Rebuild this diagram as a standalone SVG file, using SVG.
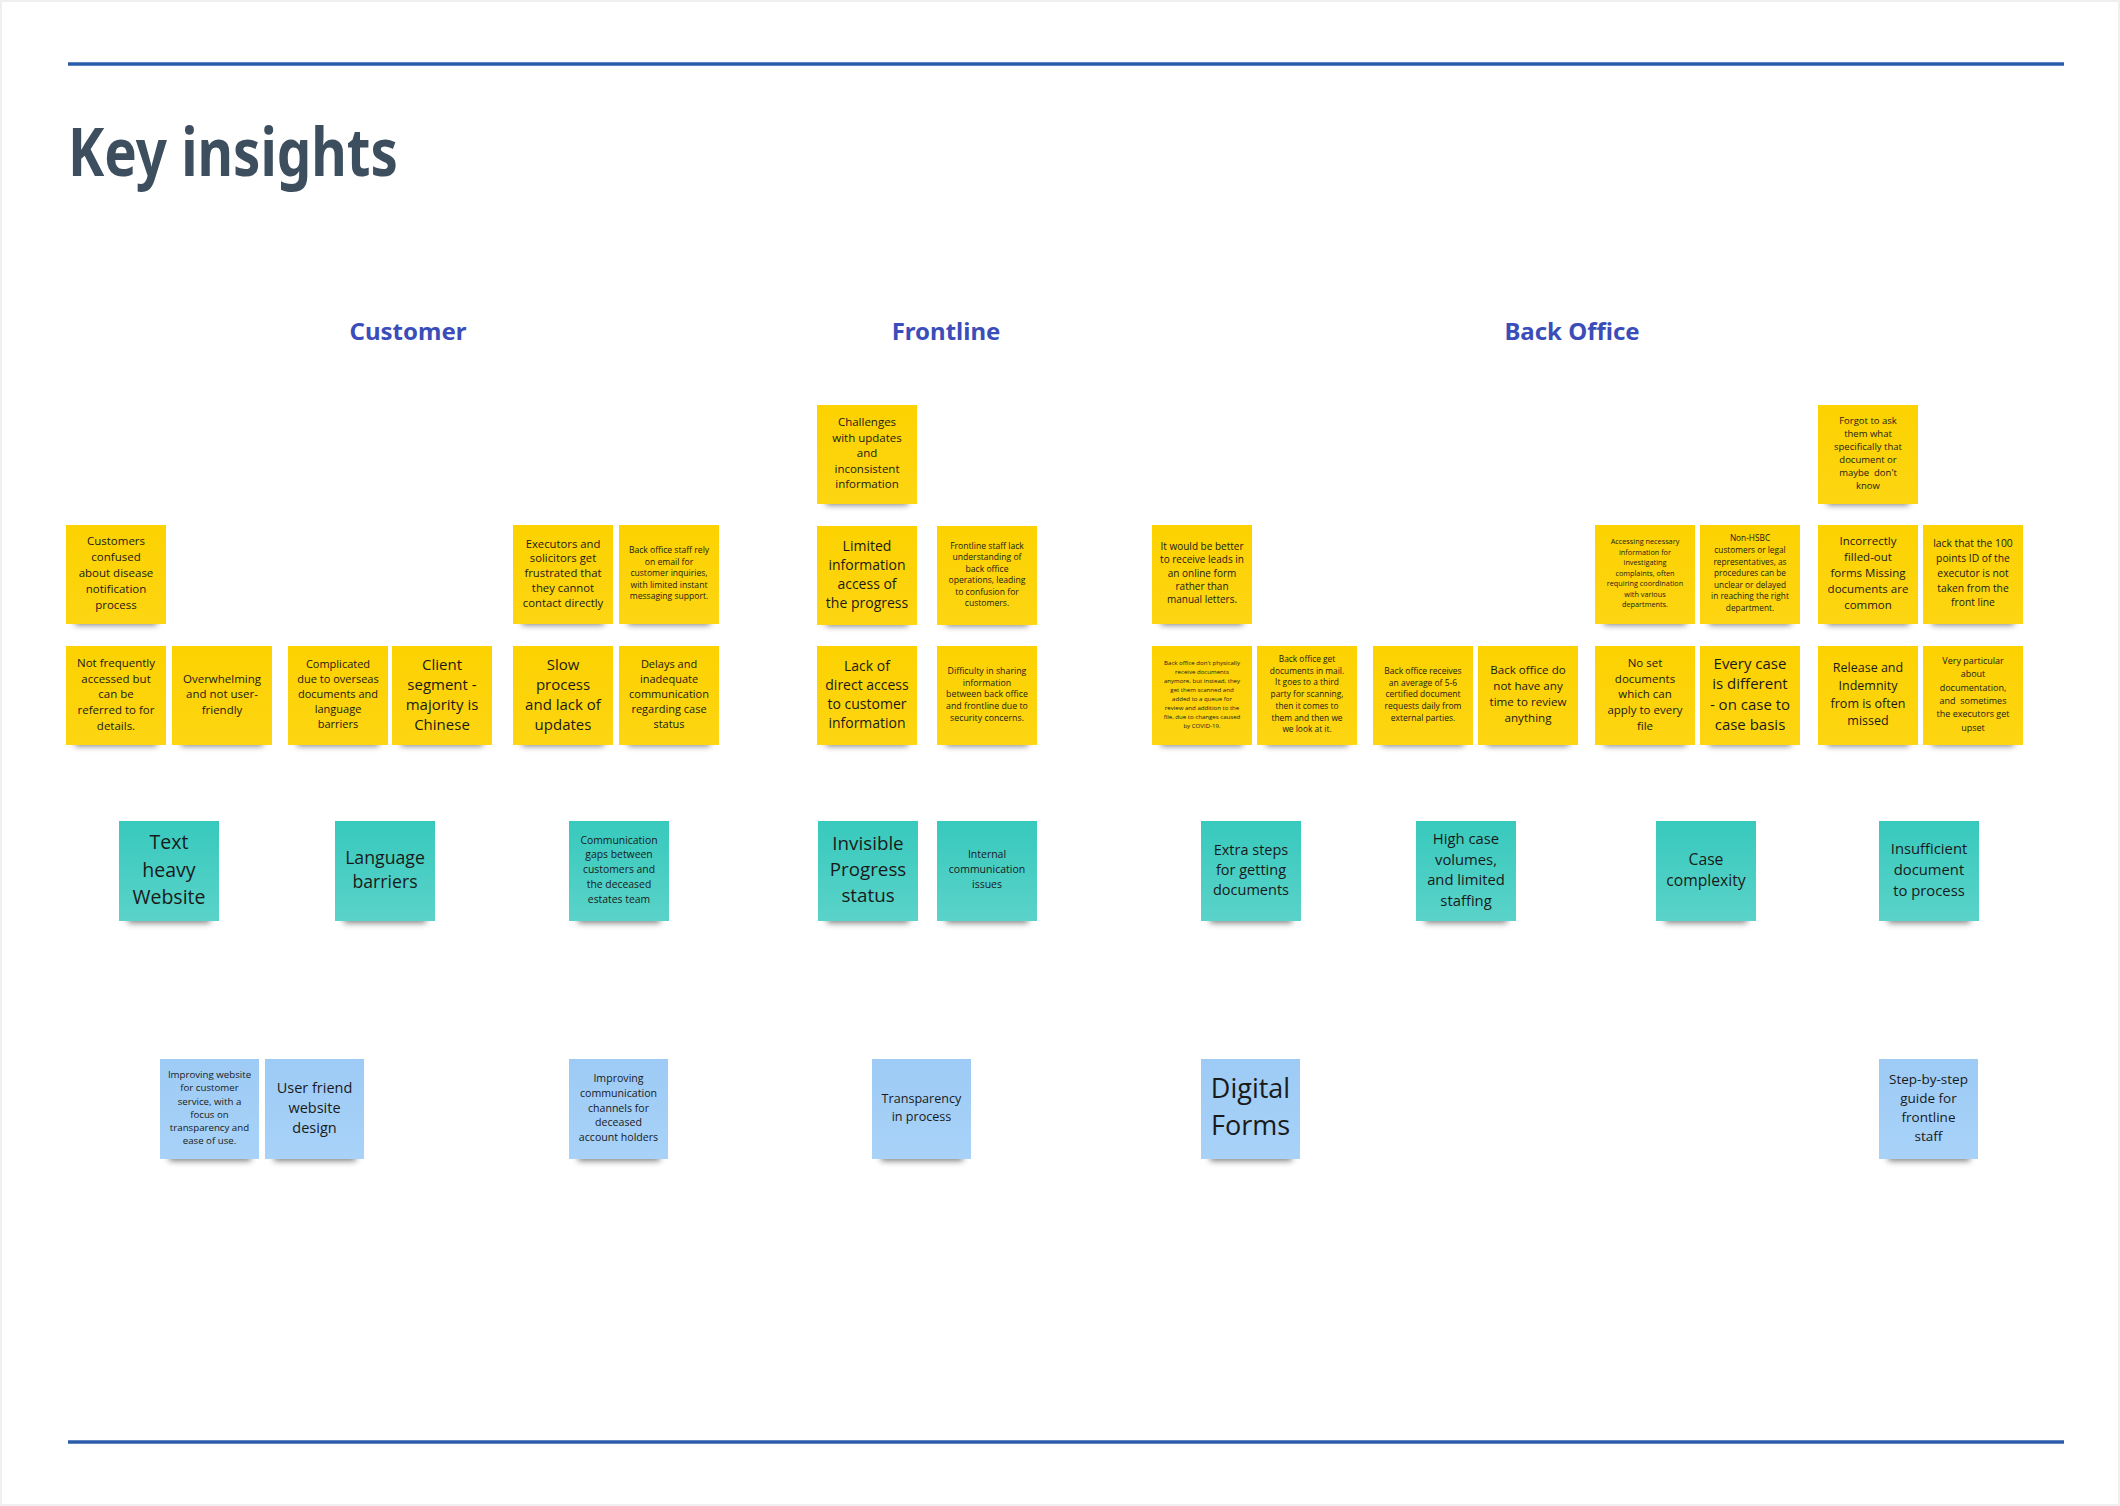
<svg xmlns="http://www.w3.org/2000/svg" xmlns:xlink="http://www.w3.org/1999/xlink" width="2120" height="1506" viewBox="0 0 2120 1506">
<style>
.rule{stroke:#2b5cab;stroke-width:3.5}
.title{font-family:"Noto Sans","Open Sans","Liberation Sans",sans-serif;font-weight:700;fill:#3d4f5f;font-size:66px}
.hdr{font-family:"Noto Sans","Open Sans","Liberation Sans",sans-serif;font-weight:700;fill:#3b4db8;font-size:24px;text-anchor:middle}
.sh{fill:#000;opacity:.5;filter:url(#blur)}
.y{fill:url(#gy)}
.g{fill:url(#gt)}
.b{fill:url(#gb)}
.t{font-family:"Open Sans","Liberation Sans",sans-serif;fill:#1a1a1a;text-anchor:middle;transform:translateY(-1.3px)}
</style>
<defs>
<filter id="blur" x="-20%" y="-100%" width="140%" height="300%"><feGaussianBlur stdDeviation="3"/></filter>
<linearGradient id="gy" x1="0" y1="0" x2="0" y2="1"><stop offset="0" stop-color="#fcd200"/><stop offset="1" stop-color="#fdd512"/></linearGradient>
<linearGradient id="gt" x1="0" y1="0" x2="0" y2="1"><stop offset="0" stop-color="#38c9bd"/><stop offset="1" stop-color="#5ad3c9"/></linearGradient>
<linearGradient id="gb" x1="0" y1="0" x2="0" y2="1"><stop offset="0" stop-color="#9dcbf5"/><stop offset="1" stop-color="#a8d2f8"/></linearGradient>
<g id="ny"><rect class="sh" x="9" y="90" width="82" height="10"/><rect class="y" width="100" height="99"/></g>
<g id="ng"><rect class="sh" x="9" y="91" width="82" height="11"/><rect class="g" width="100" height="100"/></g>
<g id="nb"><rect class="sh" x="9" y="91" width="82" height="11"/><rect class="b" width="99" height="100"/></g>
</defs>
<rect width="2120" height="1506" fill="#efefef"/>
<rect x="2" y="2" width="2116" height="1502" fill="#ffffff"/>
<line class="rule" x1="68" y1="64" x2="2064" y2="64"/>
<line class="rule" x1="68" y1="1442" x2="2064" y2="1442"/>
<text class="title" x="68" y="176" textLength="330" lengthAdjust="spacingAndGlyphs">Key insights</text>
<text class="hdr" x="408" y="340">Customer</text>
<text class="hdr" x="946" y="340">Frontline</text>
<text class="hdr" x="1572" y="340">Back Office</text>
<g id="connectors"></g>

<g id="customer">
<g id="c1" transform="translate(66,525)"><use href="#ny"/><text class="t" font-size="11.5"><tspan x="50" y="21.6">Customers</tspan><tspan x="50" y="37.6">confused</tspan><tspan x="50" y="53.6">about disease</tspan><tspan x="50" y="69.6">notification</tspan><tspan x="50" y="85.6">process</tspan></text></g>
<g id="c2" transform="translate(66,646)"><use href="#ny"/><text class="t" font-size="11.5"><tspan x="50" y="22.2">Not frequently</tspan><tspan x="50" y="37.9">accessed but</tspan><tspan x="50" y="53.6">can be</tspan><tspan x="50" y="69.3">referred to for</tspan><tspan x="50" y="85">details.</tspan></text></g>
<g id="c3" transform="translate(172,646)"><use href="#ny"/><text class="t" font-size="11.5"><tspan x="50" y="38.1">Overwhelming</tspan><tspan x="50" y="53.6">and not user-</tspan><tspan x="50" y="69.1">friendly</tspan></text></g>
<g id="c4" transform="translate(288,646)"><use href="#ny"/><text class="t" font-size="11"><tspan x="50" y="23.5">Complicated</tspan><tspan x="50" y="38.5">due to overseas</tspan><tspan x="50" y="53.5">documents and</tspan><tspan x="50" y="68.5">language</tspan><tspan x="50" y="83.5">barriers</tspan></text></g>
<g id="c5" transform="translate(392,646)"><use href="#ny"/><text class="t" font-size="15"><tspan x="50" y="24.9">Client</tspan><tspan x="50" y="44.9">segment -</tspan><tspan x="50" y="64.9">majority is</tspan><tspan x="50" y="84.9">Chinese</tspan></text></g>
<g id="c6" transform="translate(513,525)"><use href="#ny"/><text class="t" font-size="11.3"><tspan x="50" y="24">Executors and</tspan><tspan x="50" y="38.8">solicitors get</tspan><tspan x="50" y="53.6">frustrated that</tspan><tspan x="50" y="68.4">they cannot</tspan><tspan x="50" y="83.2">contact directly</tspan></text></g>
<g id="c7" transform="translate(619,525)"><use href="#ny"/><text class="t" font-size="8.6"><tspan x="50" y="29.6">Back office staff rely</tspan><tspan x="50" y="41.1">on email for</tspan><tspan x="50" y="52.6">customer inquiries,</tspan><tspan x="50" y="64.1">with limited instant</tspan><tspan x="50" y="75.6">messaging support.</tspan></text></g>
<g id="c8" transform="translate(513,646)"><use href="#ny"/><text class="t" font-size="15"><tspan x="50" y="24.9">Slow</tspan><tspan x="50" y="44.9">process</tspan><tspan x="50" y="64.9">and lack of</tspan><tspan x="50" y="84.9">updates</tspan></text></g>
<g id="c9" transform="translate(619,646)"><use href="#ny"/><text class="t" font-size="11"><tspan x="50" y="23.5">Delays and</tspan><tspan x="50" y="38.5">inadequate</tspan><tspan x="50" y="53.5">communication</tspan><tspan x="50" y="68.5">regarding case</tspan><tspan x="50" y="83.5">status</tspan></text></g>
</g>

<g id="frontline">
<g id="f1" transform="translate(817,405)"><use href="#ny"/><text class="t" font-size="11.5"><tspan x="50" y="22.4">Challenges</tspan><tspan x="50" y="38">with updates</tspan><tspan x="50" y="53.6">and</tspan><tspan x="50" y="69.2">inconsistent</tspan><tspan x="50" y="84.8">information</tspan></text></g>
<g id="f2" transform="translate(817,526)"><use href="#ny"/><text class="t" font-size="14"><tspan x="50" y="26">Limited</tspan><tspan x="50" y="45">information</tspan><tspan x="50" y="64">access of</tspan><tspan x="50" y="83">the progress</tspan></text></g>
<g id="f3" transform="translate(937,526)"><use href="#ny"/><text class="t" font-size="8.6"><tspan x="50" y="23.9">Frontline staff lack</tspan><tspan x="50" y="35.4">understanding of</tspan><tspan x="50" y="46.9">back office</tspan><tspan x="50" y="58.4">operations, leading</tspan><tspan x="50" y="69.9">to confusion for</tspan><tspan x="50" y="81.4">customers.</tspan></text></g>
<g id="f4" transform="translate(817,646)"><use href="#ny"/><text class="t" font-size="14"><tspan x="50" y="26">Lack of</tspan><tspan x="50" y="45">direct access</tspan><tspan x="50" y="64">to customer</tspan><tspan x="50" y="83">information</tspan></text></g>
<g id="f5" transform="translate(937,646)"><use href="#ny"/><text class="t" font-size="8.8"><tspan x="50" y="29.3">Difficulty in sharing</tspan><tspan x="50" y="41">information</tspan><tspan x="50" y="52.7">between back office</tspan><tspan x="50" y="64.4">and frontline due to</tspan><tspan x="50" y="76.1">security concerns.</tspan></text></g>
</g>

<g id="backoffice">
<g id="b1" transform="translate(1152,525)"><use href="#ny"/><text class="t" font-size="10"><tspan x="50" y="26.5">It would be better</tspan><tspan x="50" y="39.8">to receive leads in</tspan><tspan x="50" y="53.1">an online form</tspan><tspan x="50" y="66.4">rather than</tspan><tspan x="50" y="79.7">manual letters.</tspan></text></g>
<g id="b2" transform="translate(1152,646)"><use href="#ny"/><text class="t" font-size="6.1"><tspan x="50" y="20.6">Back office don't physically</tspan><tspan x="50" y="29.5">receive documents</tspan><tspan x="50" y="38.4">anymore, but instead, they</tspan><tspan x="50" y="47.3">get them scanned and</tspan><tspan x="50" y="56.2">added to a queue for</tspan><tspan x="50" y="65.1">review and addition to the</tspan><tspan x="50" y="74">file, due to changes caused</tspan><tspan x="50" y="82.9">by COVID-19.</tspan></text></g>
<g id="b3" transform="translate(1257,646)"><use href="#ny"/><text class="t" font-size="8.4"><tspan x="50" y="17.4">Back office get</tspan><tspan x="50" y="29.1">documents in mail.</tspan><tspan x="50" y="40.8">It goes to a third</tspan><tspan x="50" y="52.5">party for scanning,</tspan><tspan x="50" y="64.2">then it comes to</tspan><tspan x="50" y="75.9">them and then we</tspan><tspan x="50" y="87.6">we look at it.</tspan></text></g>
<g id="b4" transform="translate(1373,646)"><use href="#ny"/><text class="t" font-size="8.5"><tspan x="50" y="29.2">Back office receives</tspan><tspan x="50" y="40.9">an average of 5-6</tspan><tspan x="50" y="52.6">certified document</tspan><tspan x="50" y="64.3">requests daily from</tspan><tspan x="50" y="76">external parties.</tspan></text></g>
<g id="b5" transform="translate(1478,646)"><use href="#ny"/><text class="t" font-size="11.6"><tspan x="50" y="29.7">Back office do</tspan><tspan x="50" y="45.7">not have any</tspan><tspan x="50" y="61.7">time to review</tspan><tspan x="50" y="77.7">anything</tspan></text></g>
<g id="b6" transform="translate(1595,525)"><use href="#ny"/><text class="t" font-size="7.3"><tspan x="50" y="20.6">Accessing necessary</tspan><tspan x="50" y="31.1">information for</tspan><tspan x="50" y="41.6">investigating</tspan><tspan x="50" y="52.1">complaints, often</tspan><tspan x="50" y="62.6">requiring coordination</tspan><tspan x="50" y="73.1">with various</tspan><tspan x="50" y="83.6">departments.</tspan></text></g>
<g id="b7" transform="translate(1700,525)"><use href="#ny"/><text class="t" font-size="8.3"><tspan x="50" y="17.7">Non-HSBC</tspan><tspan x="50" y="29.3">customers or legal</tspan><tspan x="50" y="40.9">representatives, as</tspan><tspan x="50" y="52.5">procedures can be</tspan><tspan x="50" y="64.1">unclear or delayed</tspan><tspan x="50" y="75.7">in reaching the right</tspan><tspan x="50" y="87.3">department.</tspan></text></g>
<g id="b8" transform="translate(1818,405)"><use href="#ny"/><text class="t" font-size="9.5"><tspan x="50" y="20">Forgot to ask</tspan><tspan x="50" y="33">them what</tspan><tspan x="50" y="46">specifically that</tspan><tspan x="50" y="59">document or</tspan><tspan x="50" y="72" xml:space="preserve">maybe  don't</tspan><tspan x="50" y="85">know</tspan></text></g>
<g id="b9" transform="translate(1818,525)"><use href="#ny"/><text class="t" font-size="11.5"><tspan x="50" y="21.6">Incorrectly</tspan><tspan x="50" y="37.6">filled-out</tspan><tspan x="50" y="53.6">forms Missing</tspan><tspan x="50" y="69.6">documents are</tspan><tspan x="50" y="85.6">common</tspan></text></g>
<g id="b10" transform="translate(1923,525)"><use href="#ny"/><text class="t" font-size="10.3"><tspan x="50" y="23.6">lack that the 100</tspan><tspan x="50" y="38.4">points ID of the</tspan><tspan x="50" y="53.2">executor is not</tspan><tspan x="50" y="68">taken from the</tspan><tspan x="50" y="82.8">front line</tspan></text></g>
<g id="b11" transform="translate(1595,646)"><use href="#ny"/><text class="t" font-size="11.5"><tspan x="50" y="22.2">No set</tspan><tspan x="50" y="37.9">documents</tspan><tspan x="50" y="53.6">which can</tspan><tspan x="50" y="69.3">apply to every</tspan><tspan x="50" y="85">file</tspan></text></g>
<g id="b12" transform="translate(1700,646)"><use href="#ny"/><text class="t" font-size="15"><tspan x="50" y="24.5">Every case</tspan><tspan x="50" y="44.8">is different</tspan><tspan x="50" y="65.1">- on case to</tspan><tspan x="50" y="85.4">case basis</tspan></text></g>
<g id="b13" transform="translate(1818,646)"><use href="#ny"/><text class="t" font-size="12.5"><tspan x="50" y="27.5">Release and</tspan><tspan x="50" y="45.2">Indemnity</tspan><tspan x="50" y="62.9">from is often</tspan><tspan x="50" y="80.6">missed</tspan></text></g>
<g id="b14" transform="translate(1923,646)"><use href="#ny"/><text class="t" font-size="9"><tspan x="50" y="19.5">Very particular</tspan><tspan x="50" y="32.8">about</tspan><tspan x="50" y="46.1">documentation,</tspan><tspan x="50" y="59.4" xml:space="preserve">and  sometimes</tspan><tspan x="50" y="72.7">the executors get</tspan><tspan x="50" y="86">upset</tspan></text></g>
</g>

<g id="themes">
<g id="t1" transform="translate(119,821)"><use href="#ng"/><text class="t" font-size="19.5"><tspan x="50" y="29.5">Text</tspan><tspan x="50" y="57">heavy</tspan><tspan x="50" y="84.5">Website</tspan></text></g>
<g id="t2" transform="translate(335,821)"><use href="#ng"/><text class="t" font-size="17.7"><tspan x="50" y="44.4">Language</tspan><tspan x="50" y="68.4">barriers</tspan></text></g>
<g id="t3" transform="translate(569,821)"><use href="#ng"/><text class="t" font-size="10.4"><tspan x="50" y="23.9">Communication</tspan><tspan x="50" y="38.8">gaps between</tspan><tspan x="50" y="53.7">customers and</tspan><tspan x="50" y="68.6">the deceased</tspan><tspan x="50" y="83.5">estates team</tspan></text></g>
<g id="t4" transform="translate(818,821)"><use href="#ng"/><text class="t" font-size="18.8"><tspan x="50" y="30.8">Invisible</tspan><tspan x="50" y="56.8">Progress</tspan><tspan x="50" y="82.8">status</tspan></text></g>
<g id="t5" transform="translate(937,821)"><use href="#ng"/><text class="t" font-size="10.5"><tspan x="50" y="38.8">Internal</tspan><tspan x="50" y="53.8">communication</tspan><tspan x="50" y="68.8">issues</tspan></text></g>
<g id="t6" transform="translate(1201,821)"><use href="#ng"/><text class="t" font-size="14.5"><tspan x="50" y="35.2">Extra steps</tspan><tspan x="50" y="55.2">for getting</tspan><tspan x="50" y="75.2">documents</tspan></text></g>
<g id="t7" transform="translate(1416,821)"><use href="#ng"/><text class="t" font-size="14.8"><tspan x="50" y="24.6">High case</tspan><tspan x="50" y="45.1">volumes,</tspan><tspan x="50" y="65.6">and limited</tspan><tspan x="50" y="86.1">staffing</tspan></text></g>
<g id="t8" transform="translate(1656,821)"><use href="#ng"/><text class="t" font-size="15.7"><tspan x="50" y="44.9">Case</tspan><tspan x="50" y="66.6">complexity</tspan></text></g>
<g id="t9" transform="translate(1879,821)"><use href="#ng"/><text class="t" font-size="14.8"><tspan x="50" y="34.5">Insufficient</tspan><tspan x="50" y="55.3">document</tspan><tspan x="50" y="76.1">to process</tspan></text></g>
</g>

<g id="ideas">
<g id="u1" transform="translate(160,1059)"><use href="#nb"/><text class="t" font-size="9.7"><tspan x="49.5" y="20.5">Improving website</tspan><tspan x="49.5" y="33.7">for customer</tspan><tspan x="49.5" y="46.9">service, with a</tspan><tspan x="49.5" y="60.1">focus on</tspan><tspan x="49.5" y="73.3">transparency and</tspan><tspan x="49.5" y="86.5">ease of use.</tspan></text></g>
<g id="u2" transform="translate(265,1059)"><use href="#nb"/><text class="t" font-size="14.5"><tspan x="49.5" y="35.2">User friend</tspan><tspan x="49.5" y="55.2">website</tspan><tspan x="49.5" y="75.2">design</tspan></text></g>
<g id="u3" transform="translate(569,1059)"><use href="#nb"/><text class="t" font-size="10.6"><tspan x="49.5" y="24.1">Improving</tspan><tspan x="49.5" y="39">communication</tspan><tspan x="49.5" y="53.9">channels for</tspan><tspan x="49.5" y="68.8">deceased</tspan><tspan x="49.5" y="83.7">account holders</tspan></text></g>
<g id="u4" transform="translate(872,1059)"><use href="#nb"/><text class="t" font-size="12.6"><tspan x="49.5" y="45.8">Transparency</tspan><tspan x="49.5" y="63.2">in process</tspan></text></g>
<g id="u5" transform="translate(1201,1059)"><use href="#nb"/><text class="t" font-size="27"><tspan x="49.5" y="40.5">Digital</tspan><tspan x="49.5" y="77.8">Forms</tspan></text></g>
<g id="u6" transform="translate(1879,1059)"><use href="#nb"/><text class="t" font-size="13.5"><tspan x="49.5" y="26.4">Step-by-step</tspan><tspan x="49.5" y="45.4">guide for</tspan><tspan x="49.5" y="64.4">frontline</tspan><tspan x="49.5" y="83.4">staff</tspan></text></g>
</g>
</svg>
